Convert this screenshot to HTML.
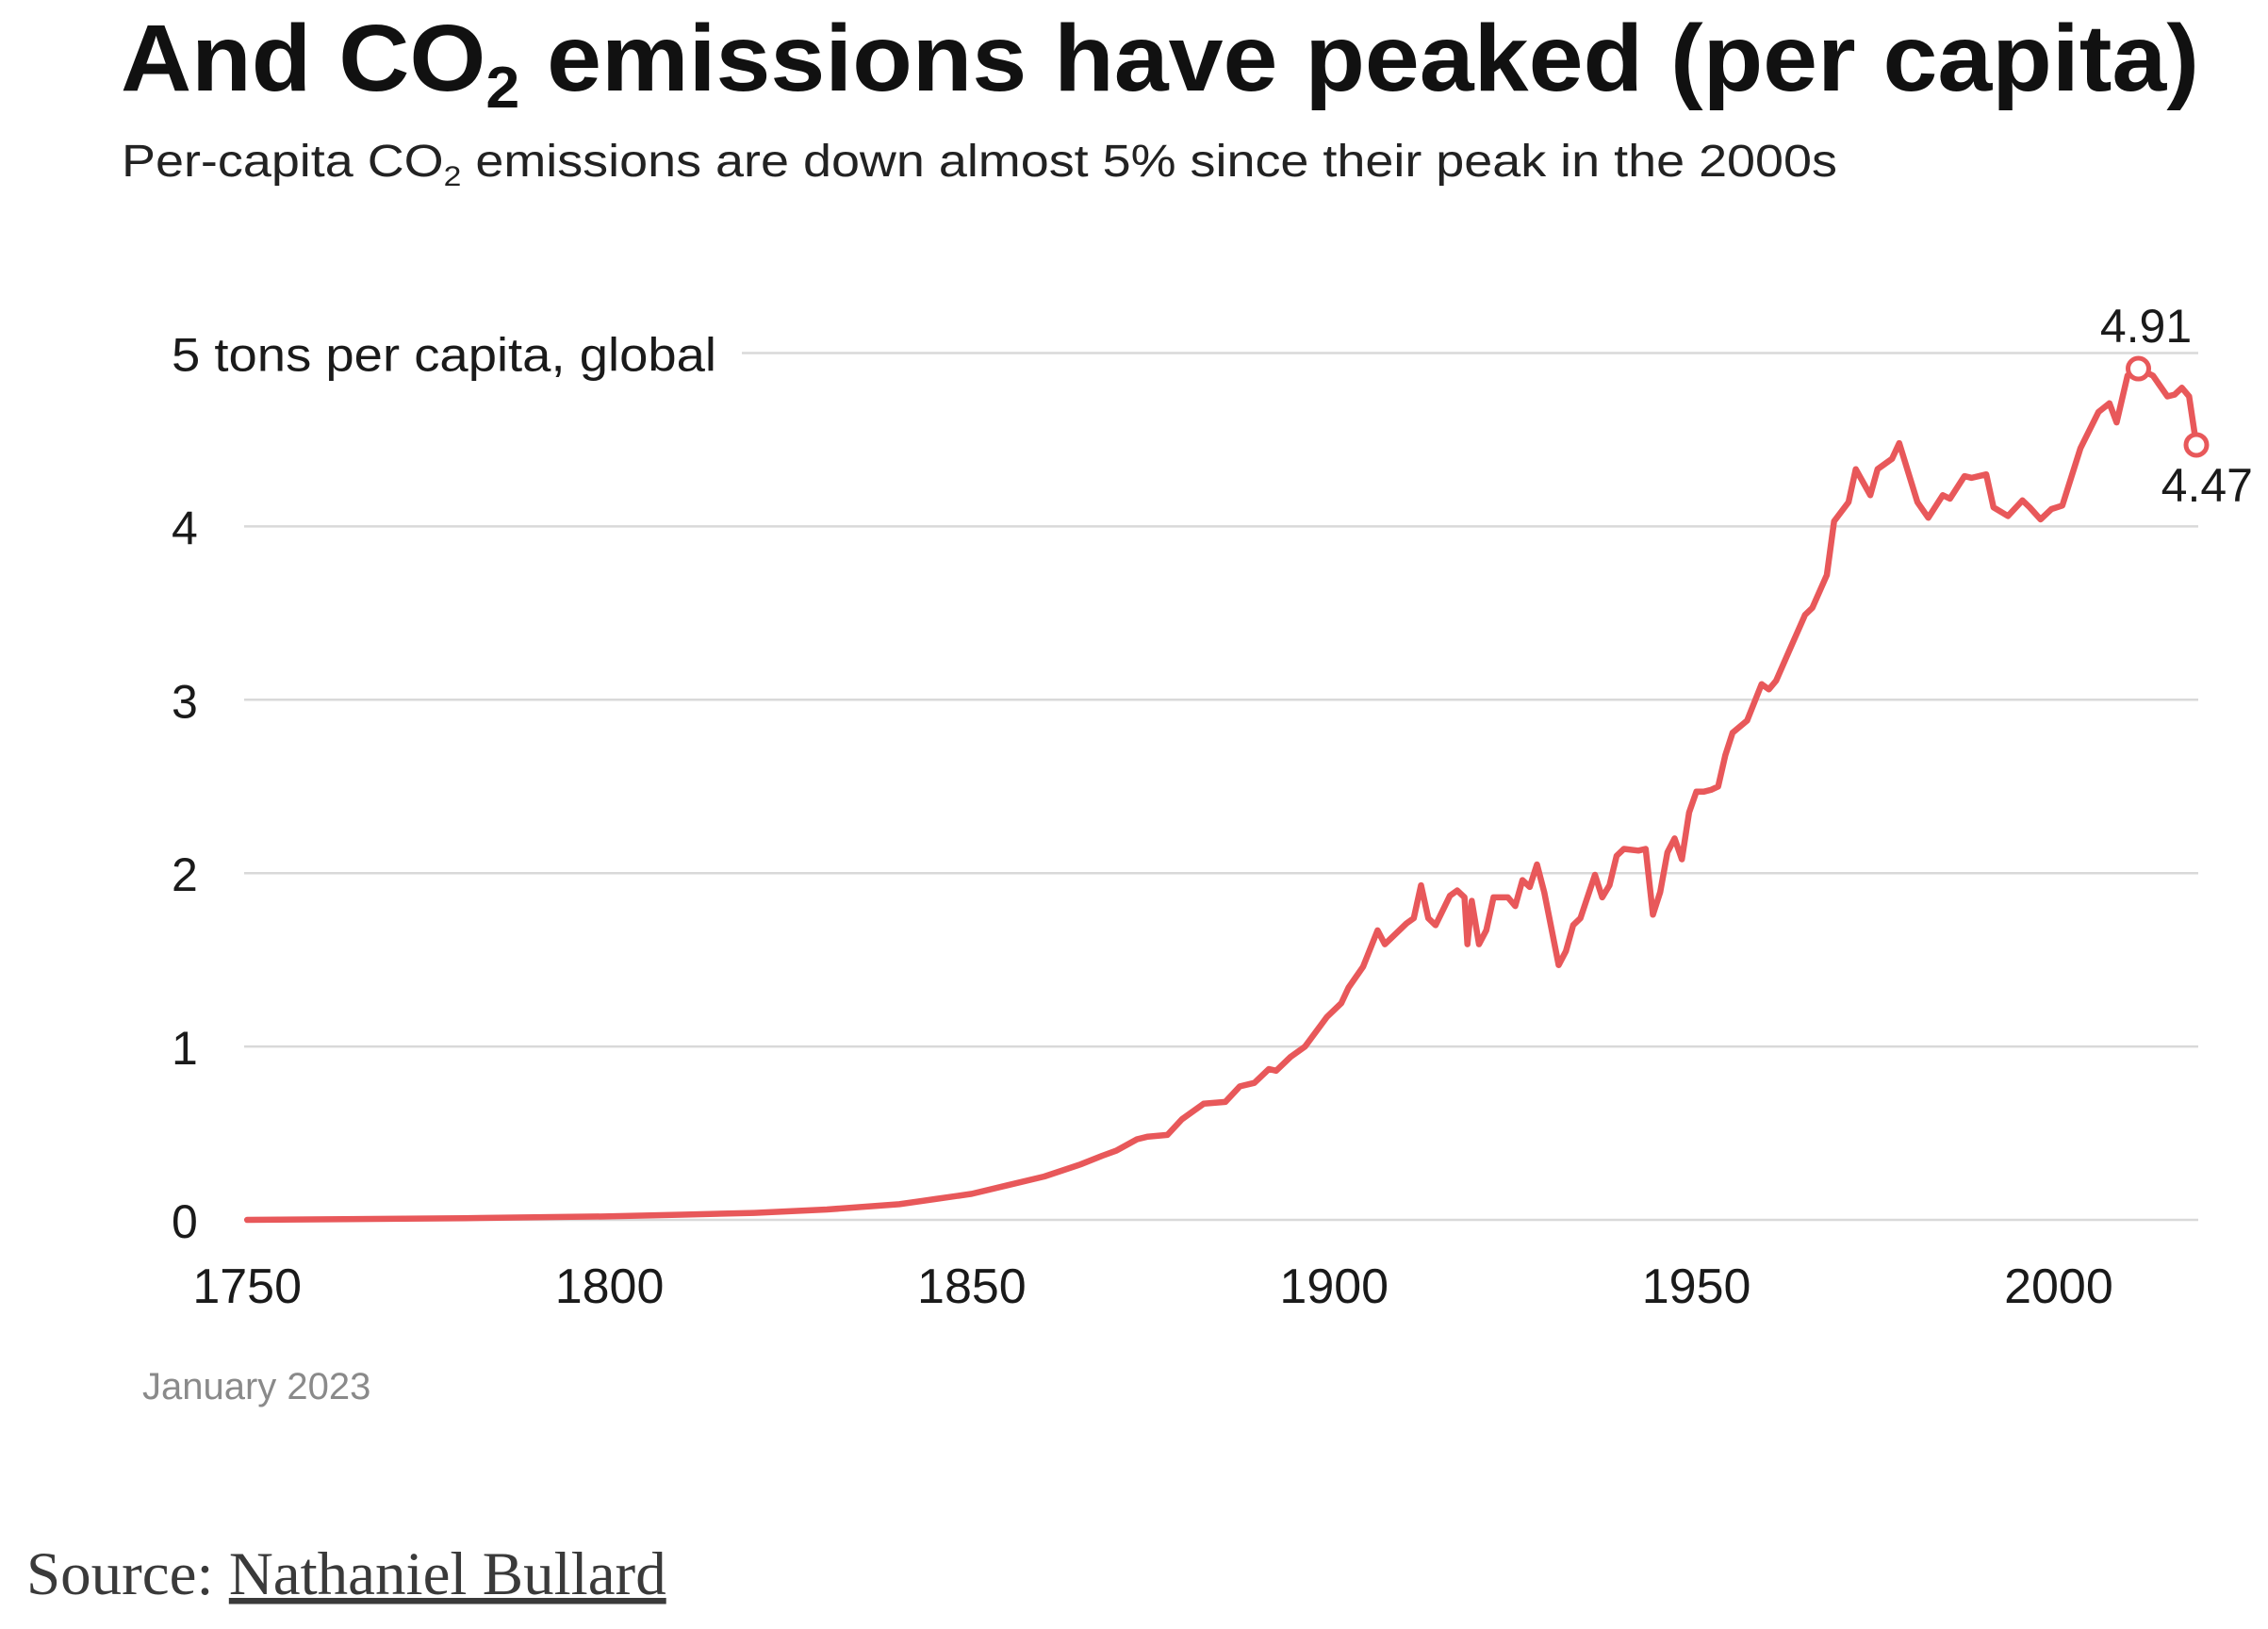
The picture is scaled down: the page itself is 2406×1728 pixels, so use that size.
<!DOCTYPE html>
<html><head><meta charset="utf-8"><style>
html,body{margin:0;padding:0;background:#fff;}
svg{display:block;}
</style></head><body>
<svg id="chart" width="2406" height="1728" viewBox="0 0 2406 1728" xmlns="http://www.w3.org/2000/svg">
<rect width="2406" height="1728" fill="#fff"/>
<text x="128" y="96" font-family="Liberation Sans, sans-serif" font-weight="bold" font-size="100" fill="#111" textLength="2205" lengthAdjust="spacingAndGlyphs">And CO<tspan font-size="62" dy="18">2</tspan><tspan dy="-18"> emissions have peaked (per capita)</tspan></text>
<text x="129" y="187" font-family="Liberation Sans, sans-serif" font-size="48" fill="#222" textLength="1820" lengthAdjust="spacingAndGlyphs">Per-capita CO<tspan font-size="30" dy="10">2</tspan><tspan dy="-10"> emissions are down almost 5% since their peak in the 2000s</tspan></text>
<g id="grid"></g>
<g id="ylabels"></g>
<g id="xlabels"></g>
<path id="line" fill="none" stroke="#e8585a" stroke-width="6.5" stroke-linejoin="round" stroke-linecap="round"/>
<g id="marks"></g>
<text x="151" y="1484" font-family="Liberation Sans, sans-serif" font-size="40" fill="#8a8a8a">January 2023</text>
<text x="28" y="1691" font-family="Liberation Serif, serif" font-size="65" fill="#3a3a3a">Source: <tspan text-decoration="underline">Nathaniel Bullard</tspan></text>
</svg>
<script>
const years = [1750,1780,1800,1810,1820,1830,1840,1845,1850,1855,1860,1865,1868,1870,1872.8,1874.3,1877,1879,1882,1885,1887,1889,1891,1892,1894,1896,1899,1901,1902,1904,1906,1907,1910,1911,1912,1913,1914,1916,1917,1918,1918.4,1919,1920,1921,1922,1924,1925,1926,1927,1928,1929,1931,1932,1933,1934,1936,1937,1938,1939,1940,1942,1943,1944,1945,1946,1947,1948,1949,1950,1951,1952,1953,1954,1955,1957,1959,1960,1961,1963,1965,1966,1968,1969,1971,1972,1974,1975,1977,1978,1980.5,1982,1984,1985,1987,1988,1990,1991,1993,1995,1996,1997.5,1999,2000.5,2003,2005.5,2007,2008,2009.5,2011,2013,2015,2016,2017,2018,2019];
const values = [0,0.01,0.02,0.03,0.04,0.06,0.09,0.12,0.15,0.2,0.25,0.32,0.37,0.4,0.465,0.48,0.49,0.58,0.67,0.68,0.77,0.79,0.87,0.86,0.94,1.0,1.17,1.25,1.34,1.46,1.67,1.59,1.71,1.74,1.93,1.74,1.70,1.87,1.90,1.86,1.59,1.84,1.59,1.67,1.86,1.86,1.81,1.96,1.92,2.05,1.89,1.47,1.55,1.70,1.74,1.99,1.86,1.93,2.10,2.14,2.13,2.14,1.76,1.89,2.12,2.20,2.08,2.35,2.47,2.47,2.48,2.50,2.68,2.81,2.88,3.09,3.06,3.11,3.30,3.49,3.53,3.72,4.03,4.14,4.33,4.18,4.33,4.39,4.48,4.14,4.05,4.18,4.16,4.29,4.28,4.30,4.11,4.06,4.15,4.11,4.04,4.10,4.12,4.45,4.66,4.71,4.60,4.87,4.91,4.87,4.75,4.76,4.80,4.75,4.47];
const yTicks = [0,1,2,3,4,5];
const yTickLabels = ["0","1","2","3","4","5 tons per capita, global"];
const xTicks = [1750,1800,1850,1900,1950,2000];
const annotated = [[2011,4.91,"4.91"],[2019,4.47,"4.47"]];

const NS="http://www.w3.org/2000/svg";
function xs(y){return 262.2+(y-1750)*7.687;}
function ys(v){return 1294-v*183.9;}
function mk(tag,attrs,parent){const e=document.createElementNS(NS,tag);for(const k in attrs)e.setAttribute(k,attrs[k]);parent.appendChild(e);return e;}
const grid=document.getElementById('grid'),yl=document.getElementById('ylabels'),xl=document.getElementById('xlabels'),marks=document.getElementById('marks');
yTicks.forEach((t,i)=>{
  const g=mk('line',{x1:(i===yTicks.length-1?787:259),x2:2332,y1:ys(t),y2:ys(t),stroke:'#d9d9d9','stroke-width':2.5},grid);
  
  
  const tx=mk('text',{x:182,y:ys(t)+19,'font-family':'Liberation Sans, sans-serif','font-size':50,fill:'#1a1a1a'},yl);
  tx.textContent=yTickLabels[i];
  
  
  if(i===yTicks.length-1){tx.setAttribute('textLength','578');tx.setAttribute('lengthAdjust','spacingAndGlyphs');}
});
xTicks.forEach(t=>{
  const tx=mk('text',{x:xs(t),y:1382,'text-anchor':'middle','font-family':'Liberation Sans, sans-serif','font-size':52,fill:'#1a1a1a'},xl);
  tx.textContent=String(t);
  
  
});
let d='';
years.forEach((y,i)=>{d+=(i?'L':'M')+xs(y).toFixed(1)+','+ys(values[i]).toFixed(1);});
document.getElementById('line').setAttribute('d',d);
annotated.forEach((a,i)=>{
  const c=mk('circle',{cx:xs(a[0]),cy:ys(a[1]),r:11,fill:'#fff',stroke:'#e8585a','stroke-width':5},marks);
  
  
  const t=mk('text',{x:i===0?xs(a[0])+8:2390,y:i===0?ys(a[1])-28:ys(a[1])+60,'text-anchor':i===0?'middle':'end','font-family':'Liberation Sans, sans-serif','font-size':50,fill:'#1a1a1a'},marks);
  t.textContent=a[2];
  
  
});
</script>
</body></html>
